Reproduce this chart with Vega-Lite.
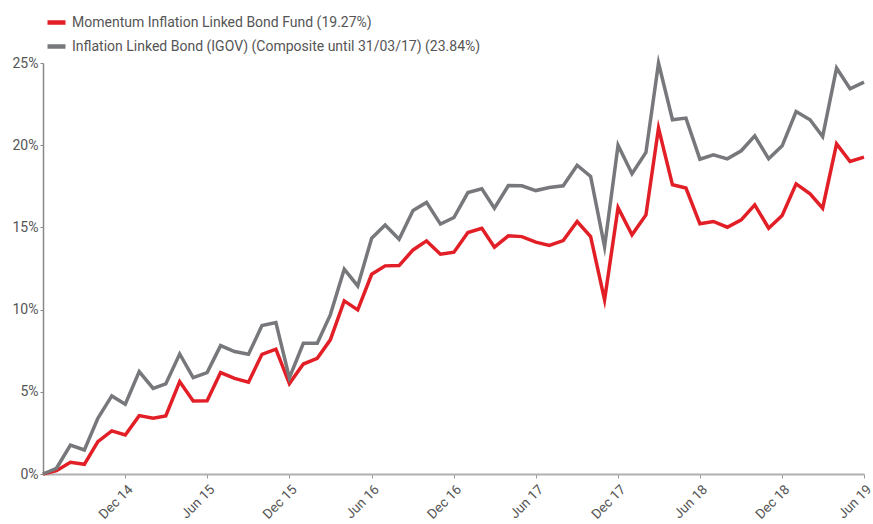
{
  "$schema": "https://vega.github.io/schema/vega-lite/v6.json",
  "width": 821,
  "height": 411,
  "autosize": {"type": "none"},
  "padding": {"left": 43, "top": 63, "right": 9, "bottom": 50},
  "background": "white",
  "config": {
    "view": {"stroke": null},
    "font": "Roboto"
  },
  "datasets": {
    "rows": [
      {"date": "2014-06-01", "g": 0, "r": 0},
      {"date": "2014-07-01", "g": 0.35, "r": 0.2},
      {"date": "2014-08-01", "g": 1.76, "r": 0.71},
      {"date": "2014-09-01", "g": 1.46, "r": 0.59},
      {"date": "2014-10-01", "g": 3.39, "r": 1.97},
      {"date": "2014-11-01", "g": 4.75, "r": 2.62},
      {"date": "2014-12-01", "g": 4.24, "r": 2.37},
      {"date": "2015-01-01", "g": 6.23, "r": 3.55},
      {"date": "2015-02-01", "g": 5.21, "r": 3.39},
      {"date": "2015-03-01", "g": 5.48, "r": 3.53},
      {"date": "2015-04-01", "g": 7.30, "r": 5.62},
      {"date": "2015-05-01", "g": 5.86, "r": 4.44},
      {"date": "2015-06-01", "g": 6.17, "r": 4.46},
      {"date": "2015-07-01", "g": 7.81, "r": 6.17},
      {"date": "2015-08-01", "g": 7.45, "r": 5.82},
      {"date": "2015-09-01", "g": 7.28, "r": 5.58},
      {"date": "2015-10-01", "g": 9.03, "r": 7.28},
      {"date": "2015-11-01", "g": 9.21, "r": 7.59},
      {"date": "2015-12-01", "g": 5.85, "r": 5.50},
      {"date": "2016-01-01", "g": 7.95, "r": 6.69},
      {"date": "2016-02-01", "g": 7.95, "r": 7.04},
      {"date": "2016-03-01", "g": 9.68, "r": 8.16},
      {"date": "2016-04-01", "g": 12.46, "r": 10.53},
      {"date": "2016-05-01", "g": 11.44, "r": 9.98},
      {"date": "2016-06-01", "g": 14.34, "r": 12.15},
      {"date": "2016-07-01", "g": 15.15, "r": 12.66},
      {"date": "2016-08-01", "g": 14.28, "r": 12.68},
      {"date": "2016-09-01", "g": 16.03, "r": 13.63},
      {"date": "2016-10-01", "g": 16.52, "r": 14.18},
      {"date": "2016-11-01", "g": 15.20, "r": 13.37},
      {"date": "2016-12-01", "g": 15.60, "r": 13.49},
      {"date": "2017-01-01", "g": 17.12, "r": 14.69},
      {"date": "2017-02-01", "g": 17.35, "r": 14.95},
      {"date": "2017-03-01", "g": 16.17, "r": 13.80},
      {"date": "2017-04-01", "g": 17.55, "r": 14.49},
      {"date": "2017-05-01", "g": 17.53, "r": 14.44},
      {"date": "2017-06-01", "g": 17.24, "r": 14.10},
      {"date": "2017-07-01", "g": 17.43, "r": 13.90},
      {"date": "2017-08-01", "g": 17.53, "r": 14.20},
      {"date": "2017-09-01", "g": 18.78, "r": 15.36},
      {"date": "2017-10-01", "g": 18.10, "r": 14.44},
      {"date": "2017-11-01", "g": 13.83, "r": 10.59},
      {"date": "2017-12-01", "g": 20.0, "r": 16.2},
      {"date": "2018-01-01", "g": 18.26, "r": 14.55},
      {"date": "2018-02-01", "g": 19.56, "r": 15.76},
      {"date": "2018-03-01", "g": 25.0, "r": 21.04},
      {"date": "2018-04-01", "g": 21.55, "r": 17.59},
      {"date": "2018-05-01", "g": 21.65, "r": 17.39},
      {"date": "2018-06-01", "g": 19.15, "r": 15.22},
      {"date": "2018-07-01", "g": 19.42, "r": 15.36},
      {"date": "2018-08-01", "g": 19.17, "r": 15.01},
      {"date": "2018-09-01", "g": 19.66, "r": 15.46},
      {"date": "2018-10-01", "g": 20.57, "r": 16.37},
      {"date": "2018-11-01", "g": 19.17, "r": 14.95},
      {"date": "2018-12-01", "g": 19.96, "r": 15.72},
      {"date": "2019-01-01", "g": 22.05, "r": 17.65},
      {"date": "2019-02-01", "g": 21.55, "r": 17.04},
      {"date": "2019-03-01", "g": 20.53, "r": 16.17},
      {"date": "2019-04-01", "g": 24.69, "r": 20.08},
      {"date": "2019-05-01", "g": 23.43, "r": 19.01},
      {"date": "2019-06-01", "g": 23.84, "r": 19.27}
    ]
  },
  "data": {"name": "rows"},
  "transform": [
    {"fold": ["r", "g"], "as": ["key", "value"]},
    {"calculate": "datum.key === 'r' ? 'Momentum Inflation Linked Bond Fund (19.27%)' : 'Inflation Linked Bond (IGOV) (Composite until 31/03/17) (23.84%)'", "as": "series"}
  ],
  "mark": {"type": "line", "strokeWidth": 3.5, "strokeJoin": "miter", "strokeMiterLimit": 10},
  "encoding": {
    "x": {
      "field": "date",
      "type": "temporal",
      "scale": {
        "type": "utc",
        "nice": false,
        "domain": [
          {"year": 2014, "month": 6, "date": 1, "utc": true},
          {"year": 2019, "month": 6, "date": 1, "utc": true}
        ]
      },
      "axis": {
        "title": null,
        "grid": false,
        "labelExpr": "utcFormat(datum.value, '%b %y')",
        "values": [
          {"year": 2014, "month": 12, "date": 1, "utc": true},
          {"year": 2015, "month": 6, "date": 1, "utc": true},
          {"year": 2015, "month": 12, "date": 1, "utc": true},
          {"year": 2016, "month": 6, "date": 1, "utc": true},
          {"year": 2016, "month": 12, "date": 1, "utc": true},
          {"year": 2017, "month": 6, "date": 1, "utc": true},
          {"year": 2017, "month": 12, "date": 1, "utc": true},
          {"year": 2018, "month": 6, "date": 1, "utc": true},
          {"year": 2018, "month": 12, "date": 1, "utc": true},
          {"year": 2019, "month": 6, "date": 1, "utc": true}
        ],
        "labelAngle": -45,
        "labelAlign": "right",
        "labelBaseline": "top",
        "labelFontSize": 13.5,
        "labelColor": "#555555",
        "labelPadding": 4,
        "domainColor": "#b0b0b0",
        "domainWidth": 2,
        "tickColor": "#999999",
        "tickSize": 4,
        "labelFlush": false,
        "labelOverlap": false
      }
    },
    "y": {
      "field": "value",
      "type": "quantitative",
      "scale": {"domain": [0, 25], "nice": false},
      "axis": {
        "title": null,
        "grid": false,
        "values": [0, 5, 10, 15, 20, 25],
        "labelExpr": "datum.value + '%'",
        "labelFontSize": 14,
        "labelColor": "#555555",
        "labelPadding": 2,
        "domainColor": "#888888",
        "domainWidth": 1.5,
        "tickColor": "#888888",
        "tickSize": 3
      }
    },
    "color": {
      "field": "series",
      "type": "nominal",
      "scale": {
        "domain": ["Momentum Inflation Linked Bond Fund (19.27%)", "Inflation Linked Bond (IGOV) (Composite until 31/03/17) (23.84%)"],
        "range": ["#E21F26", "#77787B"]
      },
      "legend": {
        "title": null,
        "orient": "none",
        "legendX": 2,
        "legendY": -52,
        "symbolType": "stroke",
        "symbolStrokeWidth": 4.5,
        "symbolSize": 324,
        "labelFontSize": 14,
        "labelColor": "#555555",
        "labelLimit": 0,
        "rowPadding": 3,
        "labelOffset": 4
      }
    }
  }
}
